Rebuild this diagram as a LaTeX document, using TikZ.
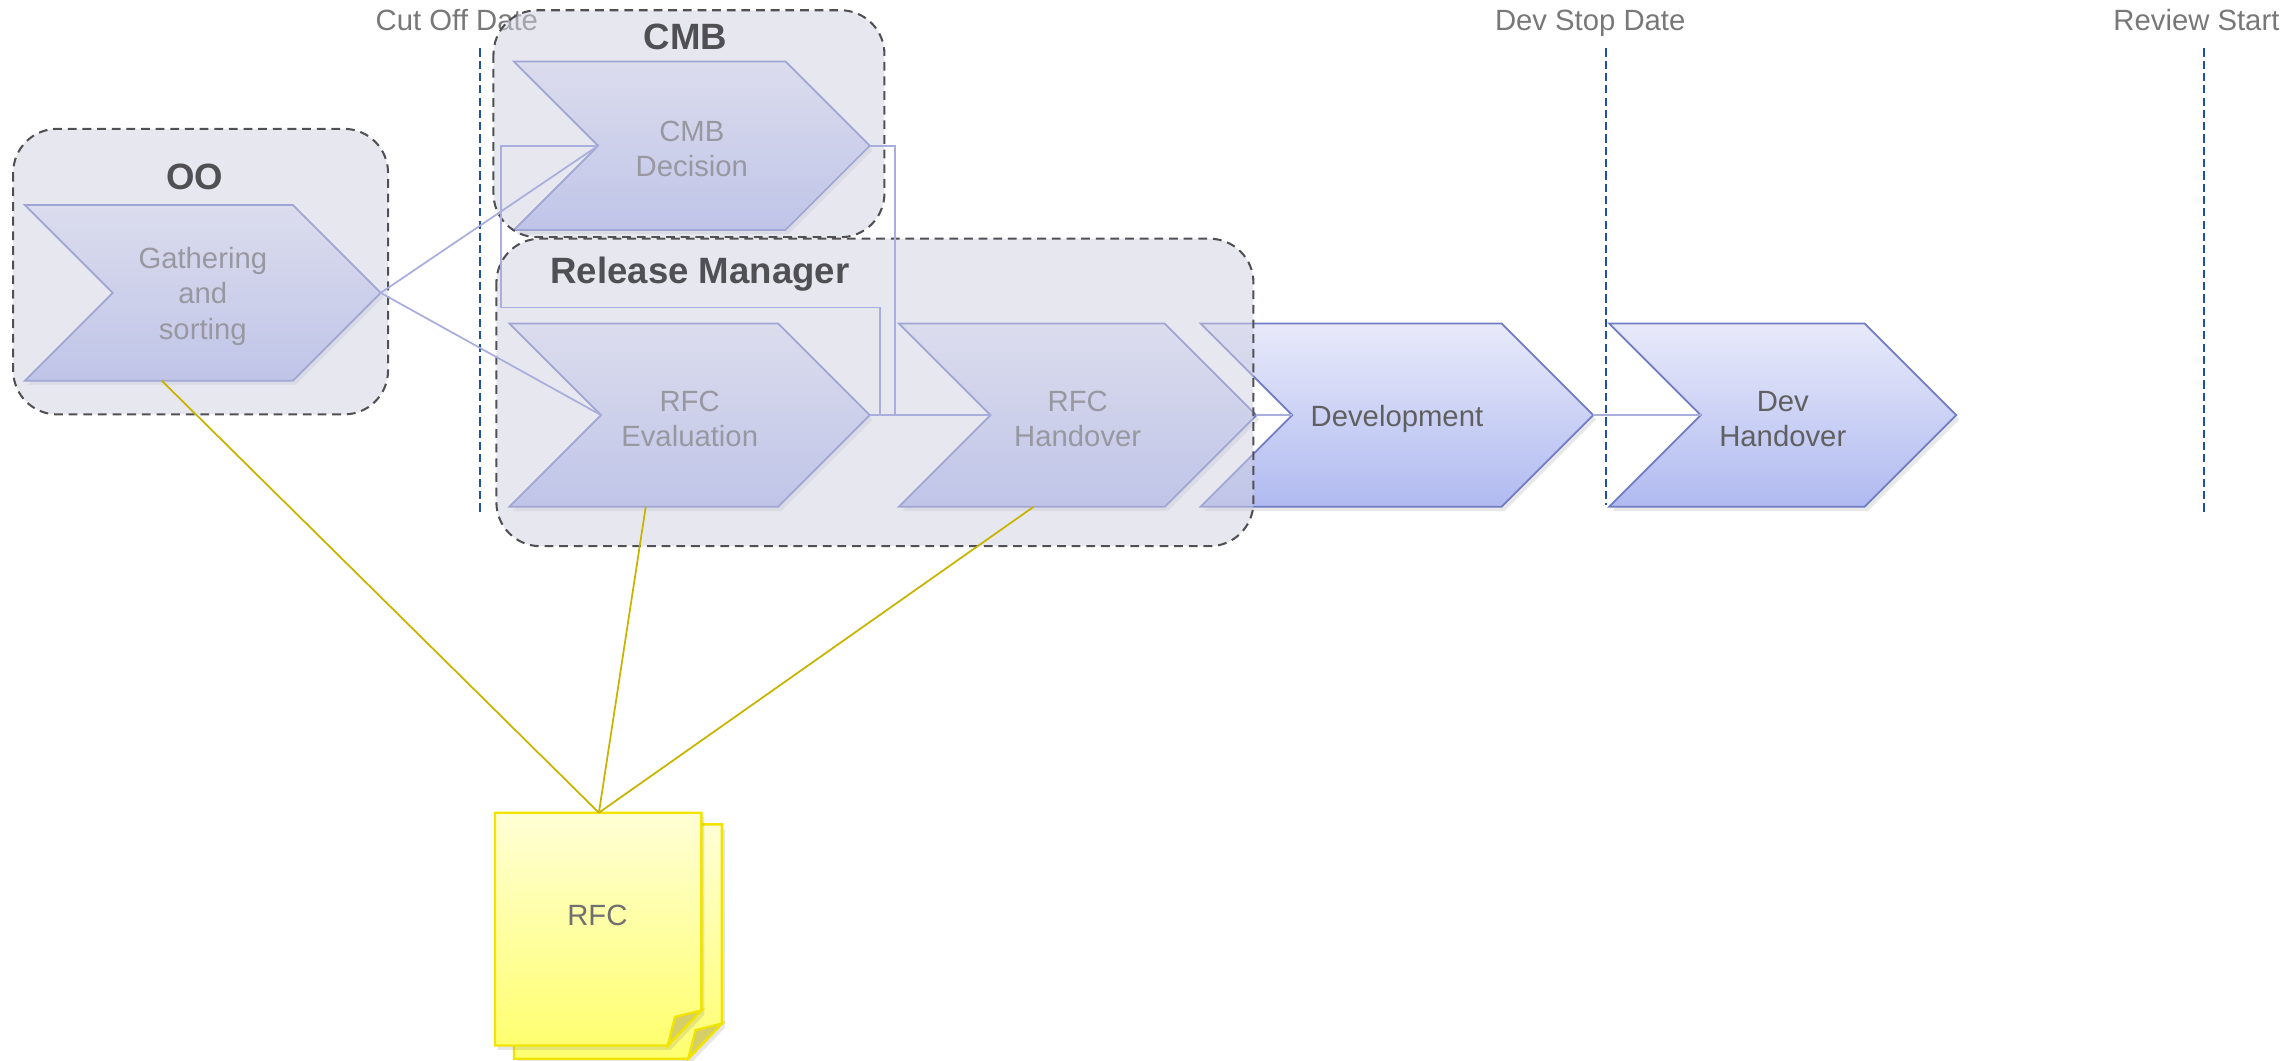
\documentclass[tikz,border=0pt]{standalone}
\usepackage{fontspec}
\setmainfont{Liberation Sans}
\usepackage{tikz}
\usetikzlibrary{shadows}

\definecolor{chevtop}{RGB}{232,234,250}
\definecolor{chevbot}{RGB}{176,186,240}
\definecolor{chevline}{RGB}{112,124,196}
\definecolor{grpfill}{RGB}{208,208,226}
\definecolor{grpline}{RGB}{80,80,84}
\definecolor{linkline}{RGB}{170,174,220}
\definecolor{rfcline}{RGB}{200,180,0}
\definecolor{dateline}{RGB}{30,80,165}
\definecolor{txtgray}{RGB}{96,96,96}
\definecolor{pagetop}{RGB}{255,255,214}
\definecolor{pagebot}{RGB}{255,255,112}
\definecolor{pageline}{RGB}{240,228,0}
\definecolor{pagefold}{RGB}{214,206,104}

% name, left x, top y, width, height, text
\newcommand{\chevron}[6]{%
  \path[chevshape] (#2,#3) -- ({#2+#4-#5/2},#3) -- ({#2+#4},{#3+#5/2})
    -- ({#2+#4-#5/2},{#3+#5}) -- (#2,{#3+#5}) -- ({#2+#5/2},{#3+#5/2}) -- cycle;
  \coordinate (#1-in) at ({#2+#5/2},{#3+#5/2});
  \coordinate (#1-out) at ({#2+#4},{#3+#5/2});
  \coordinate (#1-b) at ({#2+#4/2},{#3+#5});
  \node[chevtext] (#1) at ({#2+#4/2},{#3+#5/2}) {#6};
}

\begin{document}
\begin{tikzpicture}[x=0.5pt, y=-0.5pt,
    chevshape/.style={top color=chevtop, bottom color=chevbot, draw=chevline, line width=0.6pt,
                      drop shadow={opacity=0.18, shadow xshift=1pt, shadow yshift=-1.5pt}},
    chevtext/.style={text=txtgray, align=center, yshift=-1.2pt, font=\fontsize{10}{12}\selectfont},
    grpbox/.style={draw=grpline, dash pattern=on 3pt off 2pt, line width=0.7pt,
                   rounded corners=15pt, fill=grpfill, fill opacity=0.5},
    grptitle/.style={text=grpline, font=\fontsize{12.5}{15}\selectfont\bfseries},
    datetext/.style={anchor=base, text=txtgray!85, font=\fontsize{10}{12}\selectfont},
    datemark/.style={draw=dateline, line width=0.6pt, dash pattern=on 2.8pt off 1.4pt},
    link/.style={draw=linkline, line width=0.6pt},
    rfclink/.style={draw=rfcline, line width=0.6pt},
    page/.style={top color=pagetop, bottom color=pagebot, draw=pageline, line width=0.8pt,
                 drop shadow={opacity=0.2, shadow xshift=1pt, shadow yshift=-1.5pt}},
    fold/.style={fill=pagefold, draw=pageline, line width=0.8pt}]
\useasboundingbox (0,0) rectangle (1568,724);

% time marks
\foreach \name/\tx/\lx/\ly/\txt in {cutoff/312/328/350/Cut Off Date,
                                   devstop/1086/1097/345/Dev Stop Date,
                                   review/1500/1505/350/Review Start} {
  \node[datetext] (\name) at (\tx,21) {\txt};
  \coordinate (\name-top) at (\lx,33);
  \coordinate (\name-end) at (\lx,\ly);
  \draw[datemark] (\name-top) -- (\name-end);
}

% process steps
\chevron{gather}{17}{140}{243}{120}{Gathering\\and\\sorting}
\chevron{cmb}{351}{42}{243}{115}{CMB\\Decision}
\chevron{eval}{348}{221}{246}{125}{RFC\\Evaluation}
\chevron{hand}{614}{221}{244}{125}{RFC\\Handover}
\chevron{dev}{820}{221}{268}{125}{Development}
\chevron{devho}{1099}{221}{237}{125}{Dev\\Handover}

% groups
\draw[grpbox] (9,88) rectangle (265,283);
\draw[grpbox] (337,7) rectangle (604,162);
\draw[grpbox] (339,163) rectangle (856,373);
\node[grptitle] (oo) at (133,121) {OO};
\node[grptitle] (cmbgrp) at (468,25) {CMB};
\node[grptitle] (rm) at (478,187) {Release Manager};

% flow
\coordinate (cmbdrop) at (611,283.5);
\coordinate (cmbloop) at (342,210);
\coordinate (cmbjoin) at (601,210);
\draw[link] (gather-out) -- (cmb-in);
\draw[link] (gather-out) -- (eval-in);
\draw[link] (eval-out) -- (hand-in);
\draw[link] (cmb-out) -| (cmbdrop) -- (hand-in);
\draw[link] (cmb-in) -| (cmbloop) -- (cmbjoin) |- (hand-in);
\draw[link] (hand-out) -- (dev-in);
\draw[link] (dev-out) -- (devho-in);

% RFC document
\path[page] (351,563) -- (493,563) -- (493,699) -- (470,723) -- (351,723) -- cycle;
\path[fold] (493,699) -- (475,703.5) -- (470,723) -- cycle;
\path[page] (338,555) -- (479,555) -- (479,690) -- (456,714) -- (338,714) -- cycle;
\path[fold] (479,690) -- (461,694.5) -- (456,714) -- cycle;
\node[chevtext, text=txtgray!90] (rfc) at (408,623) {RFC};
\coordinate (rfc-top) at (409,555);

\draw[rfclink] (rfc-top) -- ([xshift=-14pt]gather-b);
\draw[rfclink] (rfc-top) -- ([xshift=-15pt]eval-b);
\draw[rfclink] (rfc-top) -- ([xshift=-15pt]hand-b);

\end{tikzpicture}
\end{document}
